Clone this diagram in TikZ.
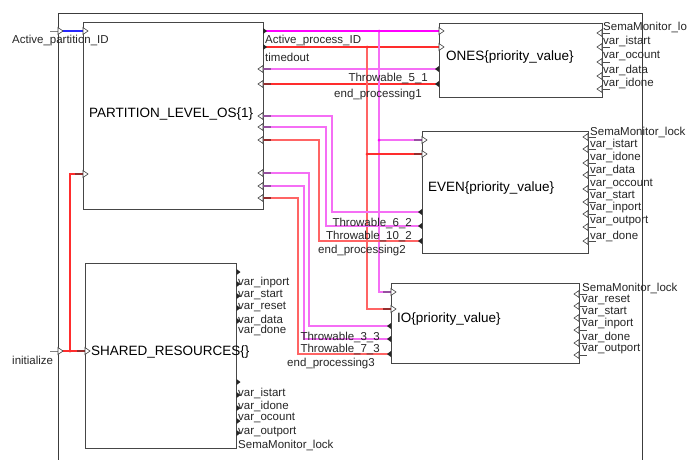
\documentclass[tikz,border=0pt]{standalone}
\usepackage{fontspec}
\setmainfont{Liberation Sans}
\definecolor{framegray}{RGB}{60,60,60}
\definecolor{boxgray}{RGB}{70,70,70}
\definecolor{wmag}{RGB}{255,0,255}
\definecolor{wmagl}{RGB}{245,110,245}
\definecolor{wred}{RGB}{255,45,45}
\definecolor{wredl}{RGB}{255,100,100}
\definecolor{wblue}{RGB}{40,40,255}
\definecolor{stubmag}{RGB}{150,80,160}
\definecolor{stubred}{RGB}{150,45,45}
\definecolor{stubgray}{RGB}{130,130,130}
\begin{document}
\begin{tikzpicture}[x=1pt,y=-1pt,
  frameline/.style={draw=framegray,line width=1pt},
  block/.style={draw=boxgray,line width=1pt,inner sep=0pt,outer sep=0pt,rectangle},
  bname/.style={font=\fontsize{13.5}{15}\selectfont,inner sep=0pt,anchor=west},
  plab/.style={font=\fontsize{11.5}{13}\selectfont,inner sep=0pt,anchor=west,text=black!85},
  plabr/.style={plab,anchor=east},
  wire/.style={line width=1.1pt},
  magw/.style={wire,draw=wmag},
  maglw/.style={wire,line width=1.2pt,draw=wmagl},
  redw/.style={wire,draw=wred},
  redlw/.style={wire,line width=1.2pt,draw=wredl},
  stubM/.style={line width=1.3pt,draw=stubmag},
  stubR/.style={line width=1.3pt,draw=stubred},
  stubG/.style={line width=0.9pt,draw=stubgray},
  jdot/.style={circle,fill=#1,inner sep=0pt,minimum size=3pt},
  inport/.pic={\draw[draw=black!75,fill=white,line width=0.6pt] (0,-3.5) -- (5,0) -- (0,3.5) -- cycle;},
  outport/.pic={\fill[black!85] (0,-3) -- (4,0) -- (0,3) -- cycle;}
]
\clip (0,0) rectangle (687,459);
\fill[white] (0,0) rectangle (687,459);

% enclosing subsystem frame
\draw[frameline] (58,470) -- (58,13) -- (642,13) -- (642,470);

% blocks
\node[block,minimum width=180pt,minimum height=187pt] (pl) at (173,115.5) {};
\node[block,minimum width=151pt,minimum height=185pt] (sh) at (160.5,355.5) {};
\node[block,minimum width=163pt,minimum height=74pt] (ones) at (520.5,60) {};
\node[block,minimum width=166pt,minimum height=122pt] (even) at (505,192) {};
\node[block,minimum width=188pt,minimum height=80pt] (io) at (485,323) {};

\node[bname] (pl-name) at (89,114) {PARTITION\_LEVEL\_OS\{1\}};
\node[bname] (sh-name) at (91,352) {SHARED\_RESOURCES\{\}};
\node[bname] (ones-name) at (446,57) {ONES\{priority\_value\}};
\node[bname] (even-name) at (428,188) {EVEN\{priority\_value\}};
\node[bname] (io-name) at (397,319) {IO\{priority\_value\}};

% port coordinates
\coordinate (ext-api) at (58,31);
\coordinate (ext-init) at (58,351);
\coordinate (pl-api) at (83,31);
\coordinate (pl-init) at (83,174);
\coordinate (sh-init) at (85,351);
\coordinate (pl-o1) at (263,31);
\coordinate (pl-o2) at (263,47);
\coordinate (pl-r1) at (263,69);
\coordinate (pl-r2) at (263,84);
\coordinate (pl-r3) at (263,116);
\coordinate (pl-r4) at (263,127);
\coordinate (pl-r5) at (263,140);
\coordinate (pl-r6) at (263,173);
\coordinate (pl-r7) at (263,186);
\coordinate (pl-r8) at (263,198);
\coordinate (ones-i1) at (439,31);
\coordinate (ones-i2) at (439,47);
\coordinate (ones-o1) at (439,69);
\coordinate (ones-o2) at (439,84);
\coordinate (even-i1) at (422,140);
\coordinate (even-i2) at (422,154);
\coordinate (even-o1) at (422,212);
\coordinate (even-o2) at (422,226);
\coordinate (even-o3) at (422,241);
\coordinate (io-i1) at (391,292);
\coordinate (io-i2) at (391,309);
\coordinate (io-o1) at (391,326);
\coordinate (io-o2) at (391,339);
\coordinate (io-o3) at (391,354);
\coordinate (j0) at (70,351);
\coordinate (j1) at (379,31);
\coordinate (j2) at (367,47);

% connectors
\draw[wire,draw=wblue] (ext-api) -- (pl-api);
\draw[redw] (ext-init) -- (sh-init);
\draw[redw] (j0) |- (pl-init);
\draw[magw] (pl-o1) -- (ones-i1);
\draw[redw] (pl-o2) -- (ones-i2);
\draw[maglw] (ones-o1) -- (pl-r1);
\draw[redw] (ones-o2) -- (pl-r2);
\draw[maglw] (j1) |- (io-i1);
\draw[maglw] (j1 |- even-i1) -- (even-i1);
\draw[redlw] (j2) |- (io-i2);
\draw[redw] (j2 |- even-i2) -- (even-i2);
\draw[maglw] (pl-r3) -- ++(69,0) |- (even-o1);
\draw[maglw] (pl-r4) -- ++(63,0) |- (even-o2);
\draw[redlw] (pl-r5) -- ++(56,0) |- (even-o3);
\draw[maglw] (pl-r6) -- ++(46,0) |- (io-o1);
\draw[maglw] (pl-r7) -- ++(41,0) |- (io-o2);
\draw[redlw] (pl-r8) -- ++(35,0) |- (io-o3);

% junction dots
\node[jdot=wmag] (d1) at (j1) {};
\node[jdot=wred] (d2) at (j2) {};
\node[jdot=wmag] (d3) at (j1 |- even-i1) {};
\node[jdot=wred] (d4) at (j2 |- even-i2) {};
\node[jdot=wred] (d0) at (j0) {};

% darker stubs next to ports
\draw[stubG] (50,31) -- (58,31);
\draw[stubG] (50,351) -- (58,351);
\draw[stubR] (75,174) -- (83,174);
\draw[stubR] (77,351) -- (85,351);
\foreach \p in {r1,r3,r4,r6,r7} \draw[stubM] (pl-\p) -- ++(8,0);
\foreach \p in {r2,r5,r8} \draw[stubR] (pl-\p) -- ++(8,0);
\draw[stubM] (even-i1) -- ++(-8,0);
\draw[stubR] (even-i2) -- ++(-8,0);
\draw[stubM] (io-i1) -- ++(-8,0);
\draw[stubR] (io-i2) -- ++(-8,0);

% port symbols: inputs (open) and outputs (filled)
\foreach \c in {ext-api,ext-init,pl-api,pl-init,sh-init,ones-i1,ones-i2,even-i1,even-i2,io-i1,io-i2}
  \pic at (\c) {inport};
\foreach \c in {pl-r1,pl-r2,pl-r3,pl-r4,pl-r5,pl-r6,pl-r7,pl-r8}
  \pic[xscale=-1] at (\c) {inport};
\foreach \c in {pl-o1,pl-o2} \pic at (\c) {outport};
\foreach \c in {ones-o1,ones-o2,even-o1,even-o2,even-o3,io-o1,io-o2,io-o3}
  \pic[xscale=-1] at (\c) {outport};

% input ports on the right sides of the process blocks
\foreach \y in {33,47,62,76,89} {
  \draw[stubG,draw=black!70] (602,\y) -- (610,\y);
  \pic[xscale=-1] at (602,\y) {inport};
}
\foreach \y in {137,149,163,175,189,202,214,227,241} {
  \draw[stubG,draw=black!70] (588,\y) -- (596,\y);
  \pic[xscale=-1] at (588,\y) {inport};
}
\foreach \y in {294,306,318,330,343,355} {
  \draw[stubG,draw=black!70] (579,\y) -- (587,\y);
  \pic[xscale=-1] at (579,\y) {inport};
}
% output ports of the shared resources
\foreach \y in {272,284,296,308,321,382,395,408,421,433}
  \pic at (236.5,\y) {outport};

% labels
\node[plab] (l-api) at (12,41) {Active\_partition\_ID};
\node[plab] (l-init) at (12,360) {initialize};
\node[plab] (l-apid) at (265,41) {Active\_process\_ID};
\node[plab] (l-tmo) at (265,57) {timedout};
\node[plabr] (l-t51) at (428,78) {Throwable\_5\_1};
\node[plabr] (l-ep1) at (422,95) {end\_processing1};
\node[plabr] (l-t62) at (412,223) {Throwable\_6\_2};
\node[plabr] (l-t102) at (412,236) {Throwable\_10\_2};
\node[plabr] (l-ep2) at (406,251) {end\_processing2};
\node[plabr] (l-t33) at (380,337) {Throwable\_3\_3};
\node[plabr] (l-t73) at (380,349) {Throwable\_7\_3};
\node[plabr] (l-ep3) at (375,364) {end\_processing3};

\node[plab] at (603,27) {SemaMonitor\_lo};
\node[plab] at (603,41) {var\_istart};
\node[plab] at (603,56) {var\_ocount};
\node[plab] at (603,70) {var\_data};
\node[plab] at (603,83) {var\_idone};

\node[plab] at (590,132) {SemaMonitor\_lock};
\node[plab] at (590,144) {var\_istart};
\node[plab] at (590,157) {var\_idone};
\node[plab] at (590,170) {var\_data};
\node[plab] at (590,184) {var\_occount};
\node[plab] at (590,196) {var\_start};
\node[plab] at (590,208) {var\_inport};
\node[plab] at (590,221) {var\_outport};
\node[plab] at (590,236) {var\_done};

\node[plab] at (582,288) {SemaMonitor\_lock};
\node[plab] at (582,300) {var\_reset};
\node[plab] at (582,312) {var\_start};
\node[plab] at (582,324) {var\_inport};
\node[plab] at (582,337) {var\_done};
\node[plab] at (582,349) {var\_outport};

\node[plab] at (238,283) {var\_inport};
\node[plab] at (238,295) {var\_start};
\node[plab] at (238,307) {var\_reset};
\node[plab] at (238,320) {var\_data};
\node[plab] at (238,330) {var\_done};
\node[plab] at (238,393) {var\_istart};
\node[plab] at (238,406) {var\_idone};
\node[plab] at (238,418) {var\_ocount};
\node[plab] at (238,432) {var\_outport};
\node[plab] at (238,445) {SemaMonitor\_lock};
\end{tikzpicture}
\end{document}
